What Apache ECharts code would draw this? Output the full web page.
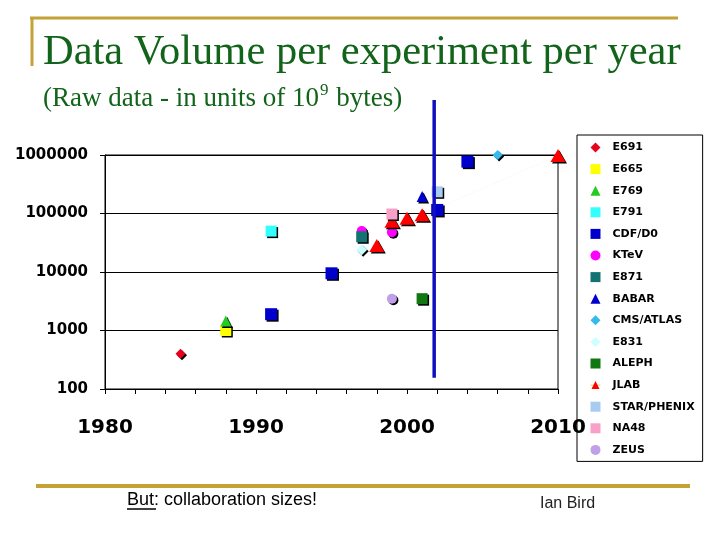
<!DOCTYPE html>
<html>
<head>
<meta charset="utf-8">
<script src="https://cdn.jsdelivr.net/npm/echarts@6/dist/echarts.min.js"></script>
<style>
html,body{margin:0;padding:0;background:#fff;}
#main{width:720px;height:540px;}
</style>
</head>
<body>
<div id="main"></div>
<script>
// ---- data ----
const experiments = ['E691','E665','E769','E791','CDF/D0','KTeV','E871','BABAR','CMS/ATLAS','E831','ALEPH','JLAB','STAR/PHENIX','NA48','ZEUS'];
const E691 = [[1985, 400]];
const E665 = [[1988, 1000]];
const E769 = [[1988, 1450]];
const E791 = [[1991, 50000]];
const CDF_D0 = [[1991, 1900], [1995, 9500], [2002, 115000], [2004, 770000]];
const KTeV = [[1997, 50000], [1999, 48000]];
const E871 = [[1997, 40000]];
const BABAR = [[2001, 195000]];
const CMS_ATLAS = [[2006, 1000000]];
const E831 = [[1997, 24000]];
const ALEPH = [[2001, 3500]];
const JLAB = [[1998, 28500], [1999, 74000], [2000, 83000], [2001, 95000], [2010, 980000]];
const STAR_PHENIX = [[2002, 235000]];
const NA48 = [[1999, 98000]];
const ZEUS = [[1999, 3500]];
const yearTicks = [1980, 1990, 2000, 2010];
const volumeTicks = [100, 1000, 10000, 100000, 1000000];
const dividerYear = 2001.8;
const dividerRange = [155, 8.7e6];

const seriesData = [E691, E665, E769, E791, CDF_D0, KTeV, E871, BABAR, CMS_ATLAS, E831, ALEPH, JLAB, STAR_PHENIX, NA48, ZEUS];
const colors = ['#e8001c','#ffff00','#22cc22','#33ffff','#0000cc','#ff00ff','#137373','#0000cc','#33bbee','#ccffff','#117711','#ff0000','#a8ccf0','#f8a0c8','#c0a0e8'];
const symbols = ['diamond','rect','triangle','rect','rect','circle','rect','triangle','diamond','diamond','rect','triangle','rect','rect','circle'];
const sizes = [[10,10],[11,11],[11,11],[11,11],[12,12],[10,10],[11,11],[11,11],[10,10],[11,11],[11,11],[15,13],[11,11],[11,11],[10,10]];

const chart = echarts.init(document.getElementById('main'));
const shadow = {shadowColor:'#000', shadowBlur:0, shadowOffsetX:1.5, shadowOffsetY:1.5};

const series = experiments.map((name, i) => {
  const base = {
    name: name,
    type: name === 'JLAB' ? 'line' : 'scatter',
    data: seriesData[i],
    symbol: symbols[i],
    symbolSize: sizes[i],
    itemStyle: Object.assign({color: colors[i], opacity: 1}, shadow),
    z: 3
  };
  if (name === 'JLAB') {
    base.showSymbol = true;
    base.lineStyle = {color:'#f3dca8', width:1, type:'dotted', opacity:0.25};
    base.emphasis = {disabled:true};
  }
  return base;
});

chart.setOption({
  animation: false,
  grid: {left:105, right:162, top:155, bottom:151, show:true, borderColor:'#000', borderWidth:1, backgroundColor:'transparent'},
  xAxis: {
    type:'value', min:1980, max:2010, interval:2,
    axisLine:{show:true, lineStyle:{color:'#000', width:1}},
    axisTick:{show:true, length:5, lineStyle:{color:'#000'}},
    splitLine:{show:false},
    axisLabel:{
      margin:29, color:'#000', fontFamily:'DejaVu Sans', fontWeight:'bold', fontSize:20,
      formatter: v => yearTicks.indexOf(v) >= 0 ? String(v) : ''
    },
    z: 20
  },
  yAxis: {
    type:'log', logBase:10, min:volumeTicks[0], max:volumeTicks[volumeTicks.length-1],
    axisLine:{show:true, lineStyle:{color:'#000', width:1}},
    axisTick:{show:true, length:5, lineStyle:{color:'#000'}},
    splitLine:{show:true, lineStyle:{color:'#000', width:1}},
    minorTick:{show:false},
    axisLabel:{
      margin:17, color:'#000', fontFamily:'DejaVu Sans', fontWeight:'bold', fontSize:15,
      formatter: v => String(Math.round(v))
    }
  },
  legend: {
    orient:'vertical', left:577, top:135,
    itemWidth:10, itemHeight:10, itemGap:10.6,
    padding:[7,8,6,13],
    borderColor:'#000', borderWidth:1, backgroundColor:'transparent',
    textStyle:{fontFamily:'DejaVu Sans', fontWeight:'bold', fontSize:11, color:'#000', padding:[0,0,0,7]},
    itemStyle:{shadowColor:'rgba(0,0,0,0)', shadowBlur:0, shadowOffsetX:0, shadowOffsetY:0},
    data: experiments.map(n => n === 'JLAB'
      ? {name:n, lineStyle:{color:'#f0c878', opacity:1, type:'solid', width:1}}
      : {name:n}),
    selectedMode:false
  },
  series: series
});

// divider line placed via axes
const px = chart.convertToPixel({xAxisIndex:0}, dividerYear);
const pyBottom = chart.convertToPixel({yAxisIndex:0}, dividerRange[0]);
const pyTop = chart.convertToPixel({yAxisIndex:0}, dividerRange[1]);

const gold = '#c4a236';
chart.setOption({
  graphic: [
    {type:'line', shape:{x1:30, y1:18, x2:678, y2:18}, style:{stroke:gold, lineWidth:3}},
    {type:'line', shape:{x1:32, y1:17, x2:32, y2:66}, style:{stroke:gold, lineWidth:3}},
    {type:'line', shape:{x1:36, y1:486, x2:690, y2:486}, style:{stroke:gold, lineWidth:4}},
    {type:'text', left:43, top:31, style:{text:'Data Volume per experiment per year', fontFamily:'Liberation Serif', fontSize:42.5, fill:'#12641a'}},
    {type:'text', left:43, top:81, style:{
      text:'{n|(Raw data - in units of 10}{s|9}{n| bytes)}',
      rich:{
        n:{fontFamily:'Liberation Serif', fontSize:27, fill:'#12641a', lineHeight:31, verticalAlign:'bottom'},
        s:{fontFamily:'Liberation Serif', fontSize:17, fill:'#12641a', lineHeight:31, verticalAlign:'top', padding:[1,1,0,1]}
      }
    }},
    {type:'line', z:10, shape:{x1:px, y1:pyTop, x2:px, y2:pyBottom}, style:{stroke:'#1010c0', lineWidth:3.5}},
    {type:'text', left:127, top:491, style:{text:'{u|But}{n|: collaboration sizes!}', rich:{
      u:{fontFamily:'Liberation Sans', fontSize:18, fill:'#000'},
      n:{fontFamily:'Liberation Sans', fontSize:18, fill:'#000'}
    }}},
    {type:'line', shape:{x1:127, y1:509, x2:156, y2:509}, style:{stroke:'#000', lineWidth:1.5}},
    {type:'text', left:540, top:496, style:{text:'Ian Bird', fontFamily:'Liberation Sans', fontSize:16, fill:'#222'}}
  ]
});
</script>
</body>
</html>
